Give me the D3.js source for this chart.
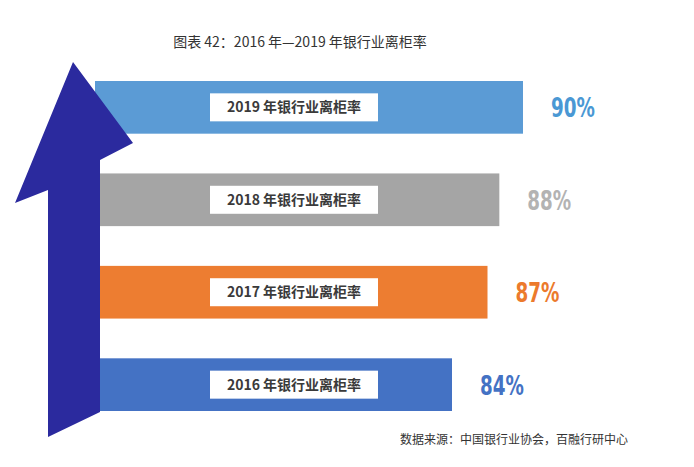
<!DOCTYPE html>
<html><head><meta charset="utf-8">
<script src="https://cdn.jsdelivr.net/npm/d3@7"></script>
<style>body{margin:0;background:#fff}</style>
</head><body><div class="chart"></div>
<script>
var years = ["2019", "2018", "2017", "2016"];
var rates = [90, 88, 87, 84];
var colors = ["#5b9bd5", "#a5a5a5", "#ed7d31", "#4472c4"];
var valueColors = ["#4a98d4", "#b3b3b3", "#ec7a2c", "#4472c4"];

var svg = d3.select(".chart").append("svg")
  .attr("width", 694).attr("height", 467)
  .style("font-family", "'Noto Sans CJK SC', sans-serif");

var xScale = d3.scaleLinear().domain([84, 90]).range([452, 523]);
var yScale = d3.scaleBand().domain(years).range([81, 411]).paddingInner(0.43).paddingOuter(0);

svg.append("text").attr("x", 300).attr("y", 47).attr("text-anchor", "middle")
  .attr("font-size", 14).attr("fill", "#333").text("图表 42：2016 年—2019 年银行业离柜率");

var rows = svg.selectAll("g.row").data(years).enter().append("g").attr("class", "row");
rows.append("rect")
  .attr("x", 95).attr("y", d => yScale(d))
  .attr("width", (d, i) => xScale(rates[i]) - 95)
  .attr("height", yScale.bandwidth())
  .attr("fill", (d, i) => colors[i]);
rows.append("rect")
  .attr("x", 210).attr("y", d => yScale(d) + yScale.bandwidth() / 2 - 14)
  .attr("width", 168).attr("height", 28).attr("fill", "#fff");
rows.append("text")
  .attr("x", 294).attr("y", d => yScale(d) + yScale.bandwidth() / 2 + 5)
  .attr("text-anchor", "middle").attr("font-size", 14).attr("font-weight", "bold")
  .attr("fill", "#3a3a3a").text(d => d + " 年银行业离柜率");
rows.append("text")
  .attr("transform", (d, i) => `translate(${xScale(rates[i]) + 28}, ${yScale(d) + yScale.bandwidth() / 2 + 10}) scale(0.68,1)`)
  .attr("font-family", "'DejaVu Sans', sans-serif")
  .attr("font-size", 27).attr("font-weight", "bold")
  .attr("fill", (d, i) => valueColors[i]).text((d, i) => rates[i] + "%");

// big arrow
svg.append("path")
  .attr("d", "M73,62 L133,143 L100,160 L100,412 L48,437 L48,190 L15,203 Z")
  .attr("fill", "#2b2a9e");

svg.append("text").attr("x", 628).attr("y", 444).attr("text-anchor", "end")
  .attr("font-size", 12).attr("fill", "#333").text("数据来源：中国银行业协会，百融行研中心");
</script></body></html>
